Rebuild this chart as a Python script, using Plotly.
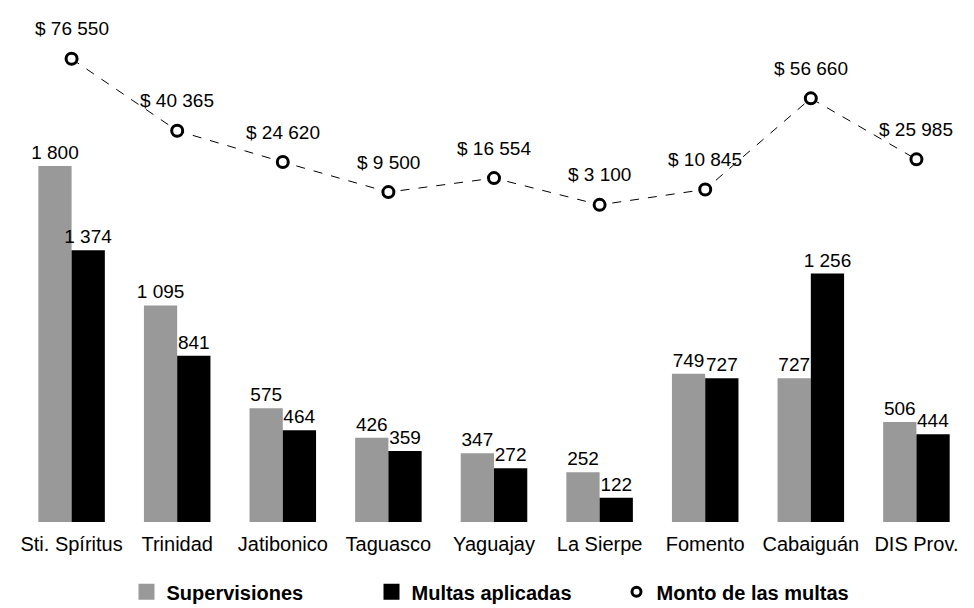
import plotly.graph_objects as go

categories = ["Sti. Spíritus", "Trinidad", "Jatibonico", "Taguasco", "Yaguajay",
              "La Sierpe", "Fomento", "Cabaiguán", "DIS Prov."]
supervisiones = [1800, 1095, 575, 426, 347, 252, 749, 727, 506]
multas = [1374, 841, 464, 359, 272, 122, 727, 1256, 444]
monto = [76550, 40365, 24620, 9500, 16554, 3100, 10845, 56660, 25985]

def fmt(v):
    return f"{v:,}".replace(",", " ")

FONT = "Liberation Sans Narrow, Liberation Sans, Arial, sans-serif"

fig = go.Figure()
fig.add_trace(go.Bar(
    x=categories, y=supervisiones, name="Supervisiones", showlegend=False,
    marker=dict(color="#999999", line=dict(width=0)),
    text=[fmt(v) for v in supervisiones], textposition="outside", constraintext="none",
    textfont=dict(size=19, color="black", family=FONT), cliponaxis=False,
))
fig.add_trace(go.Bar(
    x=categories, y=multas, name="Multas aplicadas", showlegend=False,
    marker=dict(color="#000000", line=dict(width=0)),
    text=[fmt(v) for v in multas], textposition="outside", constraintext="none",
    textfont=dict(size=19, color="black", family=FONT), cliponaxis=False,
))
fig.add_trace(go.Scatter(
    x=categories, y=monto, name="Monto de las multas", yaxis="y2", showlegend=False,
    mode="lines+markers",
    line=dict(color="black", width=1, dash="dash"),
    marker=dict(symbol="circle", size=11, color="white", line=dict(color="black", width=3)),
    cliponaxis=False,
))
for c, v in zip(categories, monto):
    fig.add_annotation(x=c, y=v, yref="y2", text="$ " + fmt(v), showarrow=False,
                       yshift=30, font=dict(size=19, color="black", family=FONT))

# legend-only entries
fig.add_trace(go.Scatter(x=[None], y=[None], mode="markers", name="Supervisiones",
                         marker=dict(symbol="square", size=24, color="#999999")))
fig.add_trace(go.Scatter(x=[None], y=[None], mode="markers", name="Multas aplicadas",
                         marker=dict(symbol="square", size=24, color="#000000")))
fig.add_trace(go.Scatter(x=[None], y=[None], mode="markers", name="Monto de las multas",
                         marker=dict(symbol="circle", size=9, color="white",
                                     line=dict(color="black", width=3))))

fig.update_layout(
    width=966, height=600,
    margin=dict(l=9, r=3, t=22, b=86),
    paper_bgcolor="white", plot_bgcolor="white",
    barmode="group", bargap=0.37, bargroupgap=0,
    font=dict(family=FONT, size=19, color="black"),
    xaxis=dict(showline=False, showgrid=False, ticks="", automargin=False,
               tickfont=dict(size=20, family=FONT), ticklabelstandoff=8),
    yaxis=dict(range=[0, 2487], visible=False, showgrid=False),
    yaxis2=dict(range=[-156440, 91046], overlaying="y", visible=False, showgrid=False),
    legend=dict(orientation="h", x=0.5, xanchor="center", yref="container",
                y=0.027, yanchor="middle",
                font=dict(size=20, family=FONT, weight="bold"), itemwidth=30,
                entrywidth=200, entrywidthmode="pixels",
                traceorder="normal", itemsizing="trace"),
    showlegend=True,
)

fig.write_html("out.html")
